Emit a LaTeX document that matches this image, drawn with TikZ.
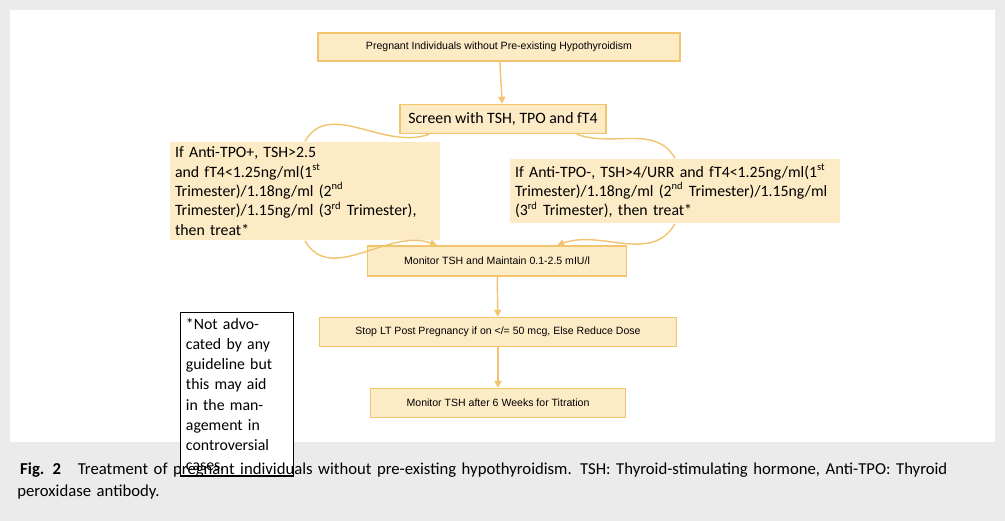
\documentclass[tikz,border=0pt]{standalone}
\usepackage{fontspec}
\setmainfont{Carlito}
\newfontfamily\arialfont{Liberation Sans}
\usetikzlibrary{positioning,arrows.meta}
\definecolor{boxfill}{HTML}{FDEBC6}
\definecolor{boxline}{HTML}{F2C46E}
\definecolor{panelgray}{HTML}{EBEBEB}
\definecolor{capblue}{HTML}{1F6FB5}
\begin{document}
\begin{tikzpicture}[x=0.02cm,y=-0.02cm,
		stepbox/.style={draw=boxline,fill=boxfill,thick,inner sep=0pt,font=\arialfont\fontsize{6}{7}\selectfont},
		condbox/.style={fill=boxfill,inner sep=3pt,align=left,font=\fontsize{9}{11}\selectfont},
		flow/.style={boxline,thick,-{Triangle[length=4pt,width=4pt]}},
		]
		\useasboundingbox (0,0) rectangle (1005,521);
		\fill[panelgray] (0,0) rectangle (1005,521);
		\fill[white] (10,10) rectangle (995,442);
		% boxes
		\node[stepbox,minimum width=7.24cm,minimum height=0.56cm] (pregnant) at (499,47) {Pregnant Individuals without Pre-existing Hypothyroidism};
		\node[stepbox,minimum width=4.12cm,minimum height=0.58cm,font=\fontsize{9}{11}\selectfont] (screen) at (503,119) {Screen with TSH, TPO and fT4};
		\node[condbox,text width=5.2cm] (pos) at (305,191) {If Anti-TPO+, TSH>2.5 and fT4<1.25ng/ml(1\textsuperscript{st} Trimester)/1.18ng/ml (2\textsuperscript{nd} Trimester)/1.15ng/ml (3\textsuperscript{rd} Trimester), then treat*};
		\node[condbox,text width=6.4cm] (neg) at (675,191) {If Anti-TPO-, TSH>4/URR and fT4<1.25ng/ml(1\textsuperscript{st} Trimester)/1.18ng/ml (2\textsuperscript{nd} Trimester)/1.15ng/ml (3\textsuperscript{rd} Trimester), then treat*};
		\node[stepbox,minimum width=5.18cm,minimum height=0.6cm] (monitor) at (497,261) {Monitor TSH and Maintain 0.1-2.5 mIU/l};
		\node[stepbox,minimum width=7.14cm,minimum height=0.58cm] (stop) at (498,332) {Stop LT Post Pregnancy if on </= 50 mcg, Else Reduce Dose};
		\node[stepbox,minimum width=5.1cm,minimum height=0.58cm] (titration) at (498,403) {Monitor TSH after 6 Weeks for Titration};
		\node[draw,thick,fill=white,text width=2.05cm,minimum height=2.12cm,inner sep=3pt,align=left,anchor=north west,font=\fontsize{9}{11.5}\selectfont] (note) at (180,312) {*Not advocated by any guideline but this may aid in the management in controversial cases.};
		% connectors
		\draw[flow] (pregnant) -- (screen);
		\draw[boxline,thick] (screen.south west) ++(30,0) coordinate (sl) to[out=200,in=60] (pos.north);
		\draw[boxline,thick] (screen.south east) ++(-30,0) coordinate (sr) to[out=-20,in=120] (neg.north);
		\draw[flow] (pos.south) to[out=-60,in=160] ([xshift=-1.2cm]monitor.north);
		\draw[flow] (neg.south) to[out=-120,in=20] ([xshift=1.2cm]monitor.north);
		\draw[flow] (monitor) -- (stop);
		\draw[flow] (stop) -- (titration);
		% caption
		\node[anchor=north west,text width=19.2cm,align=left,inner sep=0pt,font=\fontsize{9.5}{13}\selectfont] (caption) at (17,462) {\tikz[baseline=-0.2ex]\fill[capblue] (0,-0.07) -- (0.1,0) -- (0,0.07) -- cycle;\,\textbf{Fig. 2}\quad Treatment of pregnant individuals without pre-existing hypothyroidism. TSH: Thyroid-stimulating hormone, Anti-TPO: Thyroid peroxidase antibody.};
\end{tikzpicture}
\end{document}
